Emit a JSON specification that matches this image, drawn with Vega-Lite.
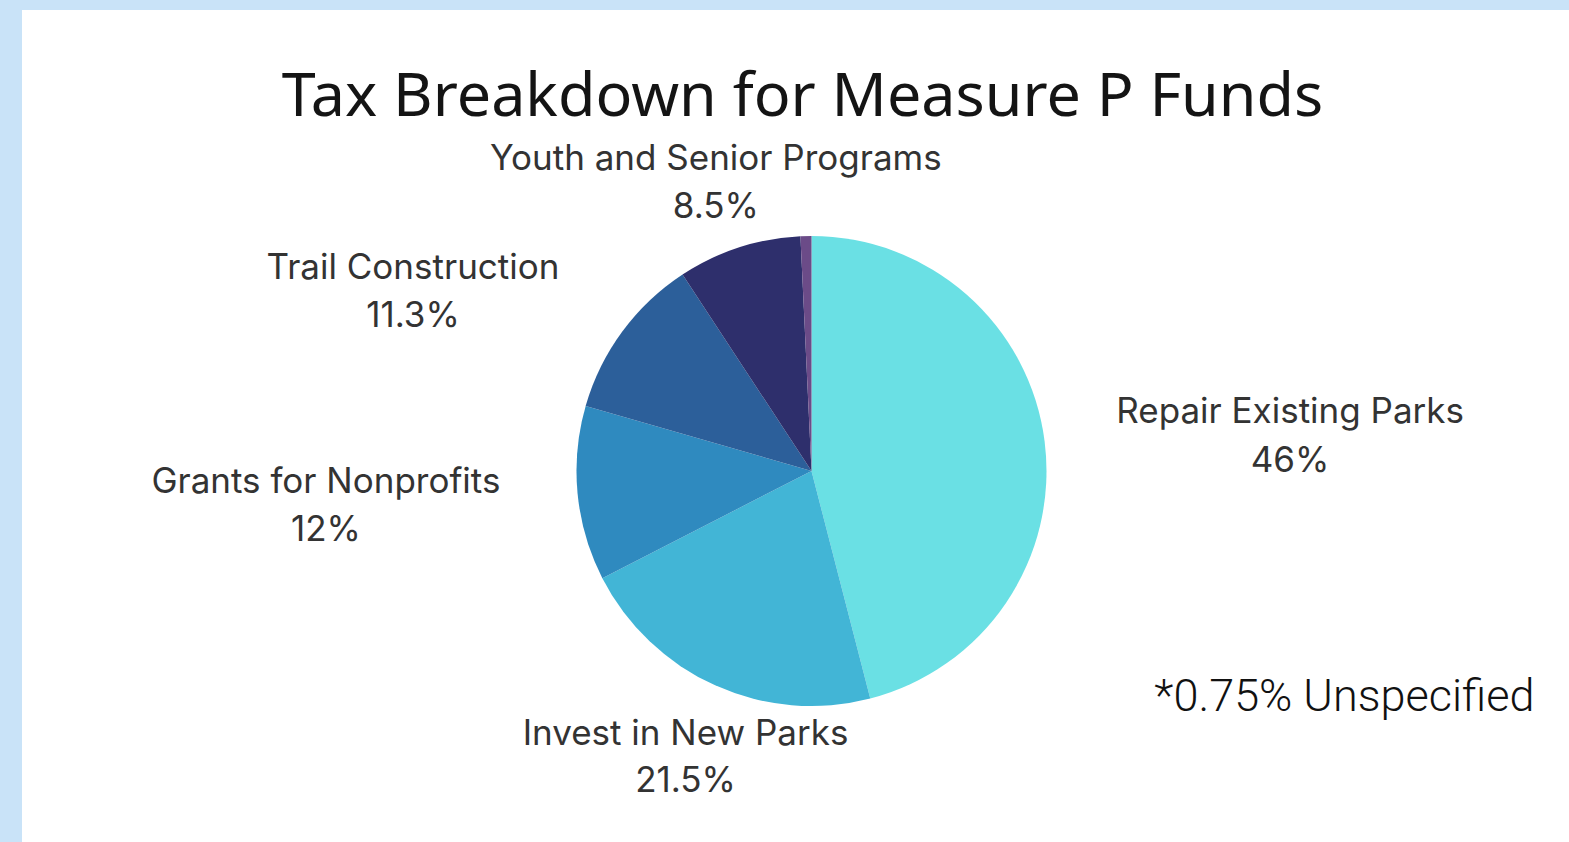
{
  "$schema": "https://vega.github.io/schema/vega-lite/v6.json",
  "autosize": {"type": "none"},
  "width": 1547,
  "height": 832,
  "padding": {"left": 22, "top": 10, "right": 0, "bottom": 0},
  "background": "#c9e3f8",
  "view": {"fill": "white", "stroke": null},
  "title": {
    "text": "Tax Breakdown for Measure P Funds",
    "frame": "group",
    "anchor": "middle",
    "orient": "top",
    "offset": -167,
    "baseline": "alphabetic",
    "dx": 7,
    "font": "Noto Sans",
    "fontSize": 61,
    "fontWeight": "normal",
    "color": "#141414"
  },
  "data": {
    "values": [
      {"category": "Repair Existing Parks", "value": 46, "label": "Repair Existing Parks\n46%"},
      {"category": "Invest in New Parks", "value": 21.5, "label": "Invest in New Parks\n21.5%"},
      {"category": "Grants for Nonprofits", "value": 12, "label": "Grants for Nonprofits\n12%"},
      {"category": "Trail Construction", "value": 11.3, "label": "Trail Construction\n11.3%"},
      {"category": "Youth and Senior Programs", "value": 8.5, "label": "Youth and Senior Programs\n8.5%"},
      {"category": "Unspecified", "value": 0.75, "label": "*0.75% Unspecified"}
    ]
  },
  "encoding": {
    "theta": {"field": "value", "type": "quantitative", "stack": true},
    "order": {"field": "value", "type": "quantitative", "sort": "descending"}
  },
  "layer": [
    {
      "mark": {"type": "arc", "radius": 235, "x": {"expr": "width/2+16"}, "y": {"expr": "height/2+45"}},
      "encoding": {
        "color": {
          "field": "category",
          "type": "nominal",
          "legend": null,
          "scale": {
            "domain": ["Repair Existing Parks", "Invest in New Parks", "Grants for Nonprofits", "Trail Construction", "Youth and Senior Programs", "Unspecified"],
            "range": ["#6ae0e4", "#42b5d6", "#2f8abf", "#2c5f9a", "#2e2f6c", "#6b4b88"]
          }
        }
      }
    },
    {
      "mark": {"type": "text", "radius": 300, "x": {"expr": "width/2+16"}, "y": {"expr": "height/2+45"}, "dx": 181, "dy": -21, "align": "center", "baseline": "middle", "lineBreak": "\n", "lineHeight": 49, "font": "Inter", "fontSize": 35, "color": "#333333"},
      "encoding": {"text": {"condition": {"test": "datum.category === 'Repair Existing Parks'", "field": "label"}, "value": ""}}
    },
    {
      "mark": {"type": "text", "radius": 300, "x": {"expr": "width/2+16"}, "y": {"expr": "height/2+45"}, "dx": -3, "dy": -11, "align": "center", "baseline": "middle", "lineBreak": "\n", "lineHeight": 47, "font": "Inter", "fontSize": 35, "color": "#333333"},
      "encoding": {"text": {"condition": {"test": "datum.category === 'Invest in New Parks'", "field": "label"}, "value": ""}}
    },
    {
      "mark": {"type": "text", "radius": 300, "x": {"expr": "width/2+16"}, "y": {"expr": "height/2+45"}, "dx": -187, "dy": -18, "align": "center", "baseline": "middle", "lineBreak": "\n", "lineHeight": 48, "font": "Inter", "fontSize": 35, "color": "#333333"},
      "encoding": {"text": {"condition": {"test": "datum.category === 'Grants for Nonprofits'", "field": "label"}, "value": ""}}
    },
    {
      "mark": {"type": "text", "radius": 300, "x": {"expr": "width/2+16"}, "y": {"expr": "height/2+45"}, "dx": -157, "dy": -25, "align": "center", "baseline": "middle", "lineBreak": "\n", "lineHeight": 48, "font": "Inter", "fontSize": 35, "color": "#333333"},
      "encoding": {"text": {"condition": {"test": "datum.category === 'Trail Construction'", "field": "label"}, "value": ""}}
    },
    {
      "mark": {"type": "text", "radius": 300, "x": {"expr": "width/2+16"}, "y": {"expr": "height/2+45"}, "dx": -3, "dy": -27, "align": "center", "baseline": "middle", "lineBreak": "\n", "lineHeight": 48, "font": "Inter", "fontSize": 35, "color": "#333333"},
      "encoding": {"text": {"condition": {"test": "datum.category === 'Youth and Senior Programs'", "field": "label"}, "value": ""}}
    },
    {
      "mark": {"type": "text", "radius": 300, "x": {"expr": "width/2+16"}, "y": {"expr": "height/2+45"}, "dx": 540, "dy": 526, "align": "center", "baseline": "middle", "font": "Roboto", "fontWeight": 300, "fontSize": 45, "color": "#111111"},
      "encoding": {"text": {"condition": {"test": "datum.category === 'Unspecified'", "field": "label"}, "value": ""}}
    }
  ]
}
